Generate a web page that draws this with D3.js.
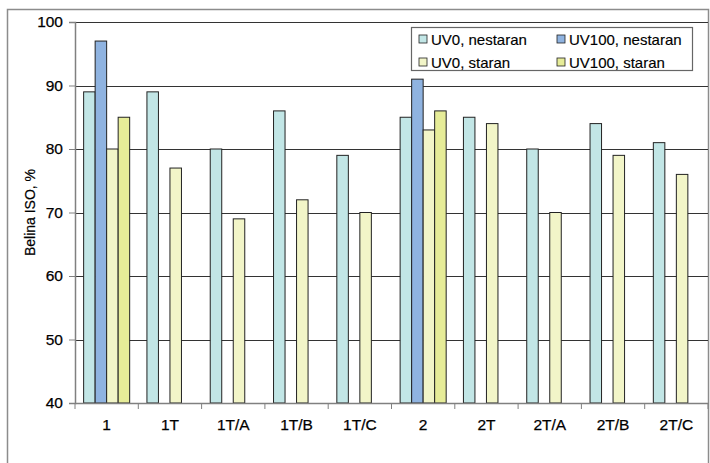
<!DOCTYPE html>
<html><head><meta charset="utf-8">
<script src="https://cdn.jsdelivr.net/npm/d3@7"></script>
<style>body{margin:0;background:#fff}svg{display:block}text{font-family:"Liberation Sans",Arial,sans-serif}</style>
</head><body>
<script>
const categories = ["1","1T","1T/A","1T/B","1T/C","2","2T","2T/A","2T/B","2T/C"];
const seriesNames = ["UV0, nestaran","UV100, nestaran","UV0, staran","UV100, staran"];
const uv0Nestaran  = [89,89,80,86,79,85,85,80,84,81];
const uv100Nestaran= [97,null,null,null,null,91,null,null,null,null];
const uv0Staran    = [80,77,69,72,70,83,84,70,79,76];
const uv100Staran  = [85,null,null,null,null,86,null,null,null,null];
const yTicks = [40,50,60,70,80,90,100];
const colors = ["#c2e6e6","#8fb3e0","#f2f5c8","#e6ec98"];
const series = [uv0Nestaran, uv100Nestaran, uv0Staran, uv100Staran];

const W=710,H=463;
const svg=d3.select("body").append("svg").attr("width",W).attr("height",H);
const L=75,R=708,T=22,B=403;
const FONT="Liberation Sans, Arial, sans-serif";
// outer frame
svg.append("rect").attr("x",7.5).attr("y",9.5).attr("width",R-7).attr("height",470)
  .attr("fill","none").attr("stroke","#8c8c8c").attr("stroke-width",1.5);

const y=d3.scaleLinear().domain([40,100]).range([B,T]);
const x=d3.scaleBand().domain(categories).range([L,R]).paddingInner(0).paddingOuter(0);
const bw=x.bandwidth()/5.5;

// gridlines
svg.append("g").selectAll("line").data(yTicks.filter(t=>t>40)).join("line")
  .attr("x1",L).attr("x2",R).attr("y1",d=>Math.round(y(d))+0.5).attr("y2",d=>Math.round(y(d))+0.5)
  .attr("stroke","#333").attr("stroke-width",1);

// bars
categories.forEach((c,i)=>{
  series.forEach((s,j)=>{
    const v=s[i]; if(v==null) return;
    svg.append("rect").attr("x",x(c)+bw*0.75+j*bw).attr("y",y(v)).attr("width",bw).attr("height",y(40)-y(v))
      .attr("fill",colors[j]).attr("stroke","#222").attr("stroke-width",1);
  });
});

// y axis
const ya=svg.append("g").attr("transform",`translate(${L},0)`).call(d3.axisLeft(y).tickValues(yTicks).tickSize(6).tickPadding(6));
ya.select(".domain").attr("stroke","#808080").attr("stroke-width",1.5);
ya.selectAll(".tick line").attr("stroke","#808080");
ya.selectAll("text").attr("font-size",15.5).attr("fill","#000").attr("font-family",FONT)
  .attr("stroke","#000").attr("stroke-width",0.25);

// x axis
const xa=svg.append("g").attr("transform",`translate(0,${B})`).call(d3.axisBottom(x).tickSize(0).tickPadding(16));
xa.select(".domain").attr("stroke","#808080").attr("stroke-width",1.5);
xa.selectAll("text").attr("font-size",15.5).attr("fill","#000").attr("font-family",FONT)
  .attr("stroke","#000").attr("stroke-width",0.25);
svg.append("g").selectAll("line").data(categories.map(c=>x(c)).concat([R])).join("line")
  .attr("x1",d=>d).attr("x2",d=>d).attr("y1",B).attr("y2",B+6).attr("stroke","#808080");

// y label
svg.append("text").attr("transform",`translate(35,${(T+B)/2}) rotate(-90)`).attr("text-anchor","middle")
  .attr("font-size",14).attr("stroke","#000").attr("stroke-width",0.2).text("Belina ISO, %");

// legend
const lg=svg.append("g");
lg.append("rect").attr("x",411.5).attr("y",27.5).attr("width",281).attr("height",43).attr("fill","#fff").attr("stroke","#666").attr("stroke-width",1.2);
seriesNames.forEach((n,k)=>{
  const col=k%2, row=Math.floor(k/2);
  const sx= col===0?419:557, sy= row===0?39:62;
  lg.append("rect").attr("x",sx).attr("y",sy-4).attr("width",8).attr("height",8).attr("fill",colors[k]).attr("stroke","#222").attr("stroke-width",0.8);
  lg.append("text").attr("x",sx+12).attr("y",sy+5.5).attr("font-size",15).attr("stroke","#000").attr("stroke-width",0.15).text(n);
});
</script>
</body></html>
